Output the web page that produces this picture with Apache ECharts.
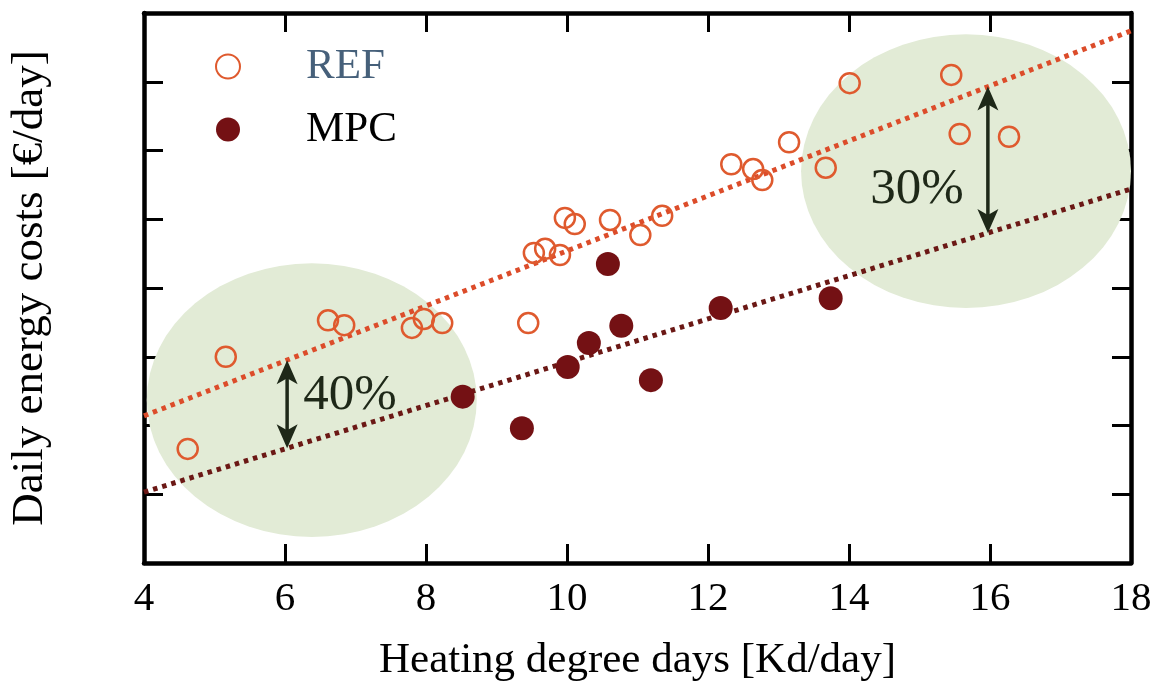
<!DOCTYPE html>
<html>
<head>
<meta charset="utf-8">
<title>Daily energy costs vs heating degree days</title>
<script src="https://cdn.jsdelivr.net/npm/echarts@6/dist/echarts.min.js"></script>
<style>
  html, body { margin: 0; padding: 0; background: #ffffff; }
  #chart { width: 1159px; height: 691px; }
</style>
</head>
<body>
<div id="chart"></div>
<script>
// Axis tick values (x) and the unlabelled y scale
const xTicks = [4, 6, 8, 10, 12, 14, 16, 18];
const yRange = [0, 8];

// Reference controller: heating degree days [Kd/day] and daily cost
const refHdd  = [4.62, 5.16, 6.61, 6.84, 7.80, 7.97, 8.23, 9.45, 9.53, 9.69, 9.90, 9.97, 10.11,
                 10.61, 11.04, 11.35, 12.33, 12.64, 12.77, 13.15, 13.67, 14.01, 15.45, 15.57, 16.27];
const refCost = [1.66, 3.00, 3.53, 3.46, 3.42, 3.55, 3.49, 3.49, 4.51, 4.57, 4.48, 5.02, 4.93,
                 4.99, 4.77, 5.05, 5.80, 5.73, 5.57, 6.12, 5.75, 6.98, 7.10, 6.24, 6.20];

// Model predictive control
const mpcHdd  = [8.52, 9.36, 10.01, 10.31, 10.58, 10.77, 11.19, 12.18, 13.74];
const mpcCost = [2.42, 1.96, 2.85, 3.20, 4.35, 3.45, 2.66, 3.71, 3.85];

// Fitted trend lines (end points)
const refTrendX = [4, 18];
const refTrendY = [2.14, 7.74];
const mpcTrendX = [4, 18];
const mpcTrendY = [1.03, 5.44];

// Highlighted regions (centre and radii in data units)
const zoneCx = [6.38, 15.66];
const zoneCy = [2.37, 5.70];
const zoneRx = [2.34, 2.34];
const zoneRy = [1.99, 1.99];

// Savings annotations: arrow between the trend lines and its label
const savingText   = ['40%', '30%'];
const arrowX       = [6.03, 15.97];
const arrowTop     = [2.95, 6.93];
const arrowBottom  = [1.67, 4.80];
const savingLabelX = [6.26, 14.30];
const savingLabelY = [2.44, 5.43];

const FONT = "'Liberation Serif', 'Times New Roman', serif";
const REF_COLOR = '#df5a2e';
const REF_LINE = '#dc4c2a';
const MPC_COLOR = '#741114';
const MPC_LINE = '#6b1815';
const ZONE_COLOR = '#e2ebd6';
const ARROW_COLOR = '#1e2818';

const zip = (a, b) => a.map((v, i) => [v, b[i]]);

const chart = echarts.init(document.getElementById('chart'), null, { renderer: 'canvas' });

const frameAxis = {
  type: 'value',
  axisLine: { show: true, onZero: false, lineStyle: { color: '#000', width: 4.5 } },
  axisTick: { show: true, inside: true, length: 19, lineStyle: { color: '#000', width: 3 } },
  splitLine: { show: false }
};

function arrowHead(tx, ty, dir) {
  // dir = 1 points up, -1 points down
  const L = 24, W = 10.5, N = 18;
  return [
    [tx, ty],
    [tx - W, ty + dir * L],
    [tx, ty + dir * N],
    [tx + W, ty + dir * L]
  ];
}

const option = {
  backgroundColor: '#ffffff',
  animation: false,
  grid: { left: 144, right: 28, top: 13, bottom: 128, containLabel: false },
  legend: {
    orient: 'vertical',
    left: 210,
    top: 40,
    itemWidth: 24,
    itemHeight: 24,
    itemGap: 20,
    selectedMode: false,
    textStyle: { fontFamily: FONT, fontSize: 43, color: '#000', padding: [0, 0, 0, 61] },
    data: [
      { name: 'REF', textStyle: { color: '#46607a' } },
      { name: 'MPC', textStyle: { color: '#000000' } }
    ]
  },
  xAxis: [
    Object.assign({}, frameAxis, {
      position: 'bottom',
      min: xTicks[0], max: xTicks[xTicks.length - 1], interval: xTicks[1] - xTicks[0],
      axisLabel: { show: true, fontFamily: FONT, fontSize: 41, color: '#000', margin: 16 },
      name: 'Heating degree days [Kd/day]',
      nameLocation: 'middle',
      nameGap: 76,
      nameTextStyle: { fontFamily: FONT, fontSize: 43, color: '#000' }
    }),
    Object.assign({}, frameAxis, {
      position: 'top',
      min: xTicks[0], max: xTicks[xTicks.length - 1], interval: xTicks[1] - xTicks[0],
      axisLabel: { show: false }
    })
  ],
  yAxis: [
    Object.assign({}, frameAxis, {
      position: 'left',
      min: yRange[0], max: yRange[1], interval: 1,
      axisLabel: { show: false },
      name: 'Daily energy costs [€/day]',
      nameLocation: 'middle',
      nameGap: 91,
      nameTextStyle: { fontFamily: FONT, fontSize: 45, color: '#000' }
    }),
    Object.assign({}, frameAxis, {
      position: 'right',
      min: yRange[0], max: yRange[1], interval: 1,
      axisLabel: { show: false }
    })
  ],
  series: [
    {
      type: 'custom',
      name: 'zones',
      coordinateSystem: 'cartesian2d',
      clip: true,
      silent: true,
      z: 1,
      data: zoneCx.map((cx, i) => [cx, zoneCy[i], zoneRx[i], zoneRy[i]]),
      renderItem(params, api) {
        const c = api.coord([api.value(0), api.value(1)]);
        const s = api.size([api.value(2), api.value(3)]);
        return {
          type: 'circle',
          x: c[0], y: c[1],
          scaleX: 1, scaleY: s[1] / s[0],
          shape: { cx: 0, cy: 0, r: s[0] },
          style: { fill: ZONE_COLOR }
        };
      }
    },
    {
      type: 'line',
      name: 'REF trend',
      data: zip(refTrendX, refTrendY),
      showSymbol: false,
      silent: true,
      z: 3,
      lineStyle: { color: REF_LINE, width: 5, type: [4.5, 5], cap: 'butt', opacity: 1 }
    },
    {
      type: 'line',
      name: 'MPC trend',
      data: zip(mpcTrendX, mpcTrendY),
      showSymbol: false,
      silent: true,
      z: 3,
      lineStyle: { color: MPC_LINE, width: 5, type: [4.5, 5], cap: 'butt', opacity: 1 }
    },
    {
      type: 'custom',
      name: 'savings',
      coordinateSystem: 'cartesian2d',
      silent: true,
      z: 4,
      data: arrowX.map((x, i) => [x, arrowTop[i], arrowBottom[i], savingLabelX[i], savingLabelY[i]]),
      renderItem(params, api) {
        const top = api.coord([api.value(0), api.value(1)]);
        const bot = api.coord([api.value(0), api.value(2)]);
        const lab = api.coord([api.value(3), api.value(4)]);
        return {
          type: 'group',
          children: [
            {
              type: 'line',
              shape: { x1: top[0], y1: top[1] + 16, x2: bot[0], y2: bot[1] - 16 },
              style: { stroke: ARROW_COLOR, lineWidth: 3.5 }
            },
            {
              type: 'polygon',
              shape: { points: arrowHead(top[0], top[1], 1) },
              style: { fill: ARROW_COLOR }
            },
            {
              type: 'polygon',
              shape: { points: arrowHead(bot[0], bot[1], -1) },
              style: { fill: ARROW_COLOR }
            },
            {
              type: 'text',
              x: lab[0], y: lab[1],
              style: {
                text: savingText[params.dataIndex],
                fontFamily: FONT, fontSize: 51,
                fill: ARROW_COLOR,
                align: 'left', verticalAlign: 'middle'
              }
            }
          ]
        };
      }
    },
    {
      type: 'scatter',
      name: 'REF',
      data: zip(refHdd, refCost),
      symbol: 'circle',
      symbolSize: 20,
      z: 5,
      itemStyle: { color: 'rgba(255,255,255,0)', borderColor: REF_COLOR, borderWidth: 2.5, opacity: 1 }
    },
    {
      type: 'scatter',
      name: 'MPC',
      data: zip(mpcHdd, mpcCost),
      symbol: 'circle',
      symbolSize: 24,
      z: 5,
      itemStyle: { color: MPC_COLOR, opacity: 1 }
    }
  ]
};

chart.setOption(option);
</script>
</body>
</html>
